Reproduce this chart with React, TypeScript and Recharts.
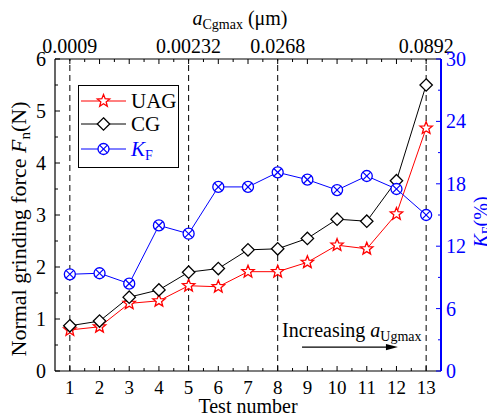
import React from 'react';
import { ComposedChart, Line, XAxis, YAxis, ReferenceLine, Legend, Label } from 'recharts';

const testNumbers = [1, 2, 3, 4, 5, 6, 7, 8, 9, 10, 11, 12, 13];
const uagForce = [0.79, 0.85, 1.3, 1.35, 1.64, 1.62, 1.91, 1.91, 2.09, 2.42, 2.35, 3.02, 4.67];
const cgForce = [0.87, 0.96, 1.42, 1.56, 1.9, 1.97, 2.33, 2.35, 2.55, 2.92, 2.88, 3.66, 5.5];
const kfPercent = [9.3, 9.4, 8.4, 14.0, 13.2, 17.7, 17.7, 19.1, 18.4, 17.4, 18.75, 17.5, 15.0];

const cgmaxTests = [1, 5, 8, 13];
const cgmaxLabels = ['0.0009', '0.00232', '0.0268', '0.0892'];

const xTicks = [1, 1.5, 2, 2.5, 3, 3.5, 4, 4.5, 5, 5.5, 6, 6.5, 7, 7.5, 8, 8.5, 9, 9.5, 10, 10.5, 11, 11.5, 12, 12.5, 13];
const forceTicks = [0, 0.5, 1, 1.5, 2, 2.5, 3, 3.5, 4, 4.5, 5, 5.5, 6];
const kfTicks = [0, 3, 6, 9, 12, 15, 18, 21, 24, 27, 30];
const kfMajorTicks = [0, 6, 12, 18, 24, 30];

const arrowStart = { x: 8.82, y: 0.46 };
const arrowEnd = { x: 12.05, y: 0.46 };

const data = testNumbers.map((t, i) => ({
  test: t,
  uag: uagForce[i],
  cg: cgForce[i],
  kf: kfPercent[i],
}));

const FONT = '"Liberation Serif", "Times New Roman", serif';
const BLUE = '#0000ff';
const RED = '#ff0000';

const StarMarker = ({ cx, cy }: { cx: number; cy: number }) => {
  const R = 6.5;
  const r = 2.8;
  const pts: string[] = [];
  for (let k = 0; k < 10; k++) {
    const ang = -Math.PI / 2 + (k * Math.PI) / 5;
    const rad = k % 2 === 0 ? R : r;
    pts.push(`${cx + rad * Math.cos(ang)},${cy + rad * Math.sin(ang)}`);
  }
  return <polygon points={pts.join(' ')} fill="#fff" stroke={RED} strokeWidth={1.3} />;
};

const DiamondMarker = ({ cx, cy }: { cx: number; cy: number }) => {
  const d = 6.2;
  return (
    <polygon
      points={`${cx},${cy - d} ${cx + d},${cy} ${cx},${cy + d} ${cx - d},${cy}`}
      fill="#fff"
      stroke="#000"
      strokeWidth={1.3}
    />
  );
};

const CrossCircleMarker = ({ cx, cy }: { cx: number; cy: number }) => {
  const r = 5.5;
  const q = r * 0.7071;
  return (
    <g>
      <circle cx={cx} cy={cy} r={r} fill="#fff" stroke={BLUE} strokeWidth={1.3} />
      <line x1={cx - q} y1={cy - q} x2={cx + q} y2={cy + q} stroke={BLUE} strokeWidth={1.2} />
      <line x1={cx - q} y1={cy + q} x2={cx + q} y2={cy - q} stroke={BLUE} strokeWidth={1.2} />
    </g>
  );
};

const BottomTick = (props: any) => {
  const { x, y, payload } = props;
  const v = payload.value;
  const major = Number.isInteger(v);
  return (
    <g>
      <line x1={x} y1={y} x2={x} y2={y - (major ? 5 : 3)} stroke="#000" strokeWidth={1} />
      {major && (
        <text x={x} y={y + 23} textAnchor="middle" fontSize={19} fontFamily={FONT} fill="#000">
          {v}
        </text>
      )}
    </g>
  );
};

const TopTick = (props: any) => {
  const { x, y, payload } = props;
  const v = payload.value;
  const major = Number.isInteger(v);
  const idx = cgmaxTests.indexOf(v);
  return (
    <g>
      <line x1={x} y1={y} x2={x} y2={y + (major ? 5 : 3)} stroke="#000" strokeWidth={1} />
      {idx >= 0 && (
        <text x={x} y={y - 6} textAnchor="middle" fontSize={20} fontFamily={FONT} fill="#000">
          {cgmaxLabels[idx]}
        </text>
      )}
    </g>
  );
};

const LeftTick = (props: any) => {
  const { x, y, payload } = props;
  const v = payload.value;
  const major = Number.isInteger(v);
  return (
    <g>
      <line x1={x} y1={y} x2={x + (major ? 5 : 3)} y2={y} stroke="#000" strokeWidth={1} />
      {major && (
        <text x={x - 9} y={y + 7} textAnchor="end" fontSize={20} fontFamily={FONT} fill="#000">
          {v}
        </text>
      )}
    </g>
  );
};

const RightTick = (props: any) => {
  const { x, y, payload } = props;
  const v = payload.value;
  const major = kfMajorTicks.includes(v);
  return (
    <g>
      <line x1={x} y1={y} x2={x - (major ? 5 : 3)} y2={y} stroke={BLUE} strokeWidth={1} />
      {major && (
        <text x={x + 5} y={y + 7} textAnchor="start" fontSize={20} fontFamily={FONT} fill={BLUE}>
          {v}
        </text>
      )}
    </g>
  );
};

const seriesMeta = [
  { name: 'UAG', color: RED, Marker: StarMarker },
  { name: 'CG', color: '#000', Marker: DiamondMarker },
  { name: 'KF', color: BLUE, Marker: CrossCircleMarker },
];

const LegendBox = () => {
  const rows = [16, 39, 64];
  return (
    <div style={{ width: 101, height: 83, border: '1px solid #000', background: '#fff', boxSizing: 'border-box' }}>
      <svg width={99} height={81} style={{ display: 'block' }}>
        {seriesMeta.map((s, i) => {
          const y = rows[i] - 1;
          const M = s.Marker;
          return (
            <g key={s.name}>
              <line x1={2} y1={y} x2={47} y2={y} stroke={s.color} strokeWidth={1} />
              <M cx={24.5} cy={y} />
              {s.name === 'KF' ? (
                <text x={52} y={y + 7} fontSize={21} fontFamily={FONT} fill={BLUE}>
                  <tspan fontStyle="italic">K</tspan>
                  <tspan fontSize={14} dy={4}>F</tspan>
                </text>
              ) : (
                <text x={52} y={y + 7} fontSize={21} fontFamily={FONT} fill="#000">
                  {s.name}
                </text>
              )}
            </g>
          );
        })}
      </svg>
    </div>
  );
};

const ArrowShape = (props: any) => {
  const { x1, y1, x2, y2 } = props;
  return (
    <g>
      <text x={x1 - 20} y={y1 - 10} fontSize={20} fontFamily={FONT} fill="#000">
        Increasing <tspan fontStyle="italic">a</tspan>
        <tspan fontSize={14} dy={4}>Ugmax</tspan>
      </text>
      <line x1={x1} y1={y1} x2={x2 - 8} y2={y2} stroke="#000" strokeWidth={1.3} />
      <polygon points={`${x2},${y2} ${x2 - 12},${y2 - 3.2} ${x2 - 12},${y2 + 3.2}`} fill="#000" />
    </g>
  );
};

export default function App() {
  return (
    <div style={{ margin: '-8px 0 0 -8px', width: 495, height: 418 }}>
      <ComposedChart
        width={495}
        height={418}
        data={data}
        margin={{ top: 0, right: 0, bottom: 0, left: 0 }}
        style={{ fontFamily: FONT }}
      >
        <XAxis
          xAxisId="bottom"
          dataKey="test"
          type="number"
          domain={[0.5, 13.5]}
          ticks={xTicks}
          interval={0}
          height={47}
          tickSize={0}
          tickMargin={0}
          tick={<BottomTick />}
          axisLine={{ stroke: '#000', strokeWidth: 1.2 }}
          tickLine={false}
        >
          <Label
            content={() => (
              <text x={248} y={413} textAnchor="middle" fontSize={20} fontFamily={FONT} fill="#000">
                Test number
              </text>
            )}
          />
        </XAxis>
        <XAxis
          xAxisId="top"
          orientation="top"
          dataKey="test"
          type="number"
          domain={[0.5, 13.5]}
          ticks={xTicks}
          interval={0}
          height={59}
          tickSize={0}
          tickMargin={0}
          tick={<TopTick />}
          axisLine={{ stroke: '#000', strokeWidth: 1.2 }}
          tickLine={false}
        >
          <Label
            content={() => (
              <text x={240} y={25} textAnchor="middle" fontSize={20} fontFamily={FONT} fill="#000">
                <tspan fontStyle="italic">a</tspan>
                <tspan fontSize={14} dy={4}>Cgmax</tspan>
                <tspan dy={-4}> (μm)</tspan>
              </text>
            )}
          />
        </XAxis>
        <YAxis
          yAxisId="left"
          type="number"
          domain={[0, 6]}
          ticks={forceTicks}
          interval={0}
          width={55}
          tickSize={0}
          tickMargin={0}
          tick={<LeftTick />}
          axisLine={{ stroke: '#000', strokeWidth: 1.2 }}
          tickLine={false}
        >
          <Label
            content={() => (
              <text
                x={26}
                y={229}
                transform="rotate(-90, 26, 229)"
                textAnchor="middle"
                fontSize={22}
                fontFamily={FONT}
                fill="#000"
              >
                Normal grinding force <tspan fontStyle="italic">F</tspan>
                <tspan fontSize={15} dy={4}>n</tspan>
                <tspan dy={-4}>(N)</tspan>
              </text>
            )}
          />
        </YAxis>
        <YAxis
          yAxisId="right"
          orientation="right"
          type="number"
          domain={[0, 30]}
          ticks={kfTicks}
          interval={0}
          width={54}
          tickSize={0}
          tickMargin={0}
          tick={<RightTick />}
          axisLine={{ stroke: BLUE, strokeWidth: 2 }}
          tickLine={false}
        >
          <Label
            content={() => (
              <text
                x={488}
                y={222}
                transform="rotate(-90, 488, 222)"
                textAnchor="middle"
                fontSize={20}
                fontFamily={FONT}
                fill={BLUE}
              >
                <tspan fontStyle="italic">K</tspan>
                <tspan fontSize={14} dy={4}>F</tspan>
                <tspan dy={-4}>(%)</tspan>
              </text>
            )}
          />
        </YAxis>

        {cgmaxTests.map((t) => (
          <ReferenceLine
            key={t}
            xAxisId="bottom"
            yAxisId="left"
            x={t}
            stroke="#000"
            strokeWidth={1}
            strokeDasharray="6 4"
          />
        ))}

        <ReferenceLine
          xAxisId="bottom"
          yAxisId="left"
          segment={[arrowStart, arrowEnd]}
          shape={<ArrowShape />}
        />

        <Line
          xAxisId="bottom"
          yAxisId="left"
          dataKey="uag"
          type="linear"
          stroke={RED}
          strokeWidth={1}
          isAnimationActive={false}
          activeDot={false}
          dot={(p: any) => <StarMarker key={`u${p.index}`} cx={p.cx} cy={p.cy} />}
        />
        <Line
          xAxisId="bottom"
          yAxisId="left"
          dataKey="cg"
          type="linear"
          stroke="#000"
          strokeWidth={1}
          isAnimationActive={false}
          activeDot={false}
          dot={(p: any) => <DiamondMarker key={`c${p.index}`} cx={p.cx} cy={p.cy} />}
        />
        <Line
          xAxisId="bottom"
          yAxisId="right"
          dataKey="kf"
          type="linear"
          stroke={BLUE}
          strokeWidth={1}
          isAnimationActive={false}
          activeDot={false}
          dot={(p: any) => <CrossCircleMarker key={`k${p.index}`} cx={p.cx} cy={p.cy} />}
        />

        <Legend
          layout="vertical"
          align="center"
          verticalAlign="middle"
          content={<LegendBox />}
          wrapperStyle={{ left: 78, top: 85, width: 101, height: 83 }}
        />
      </ComposedChart>
    </div>
  );
}
